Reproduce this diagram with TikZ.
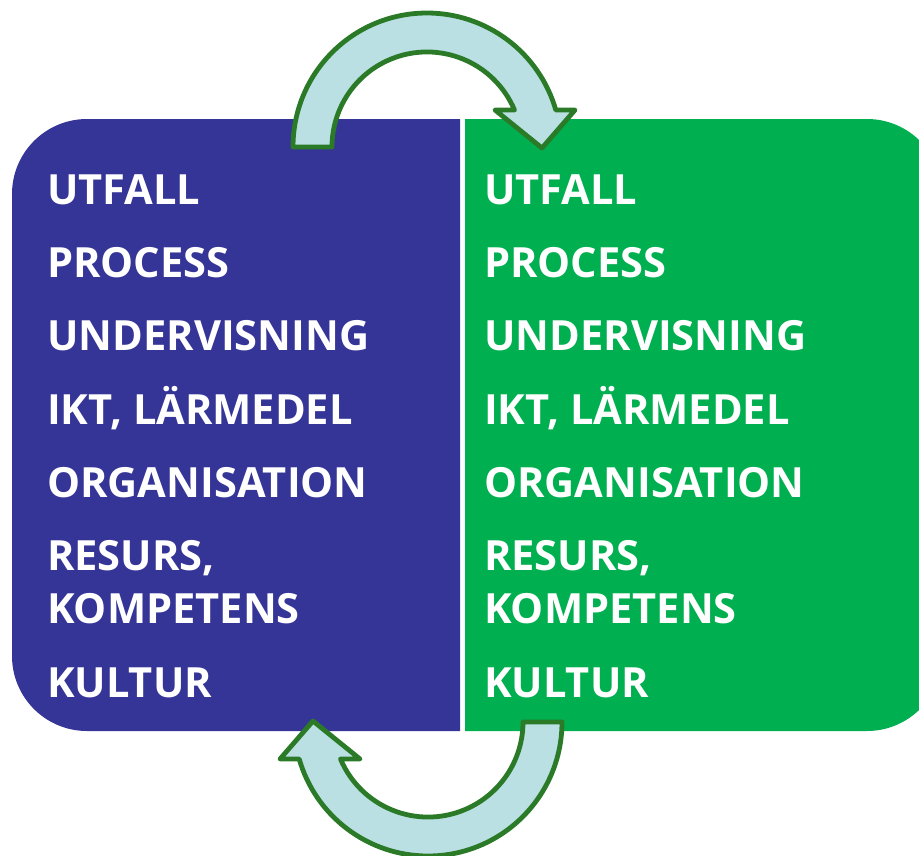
\documentclass[tikz,border=0pt]{standalone}
\usepackage{fontspec}
\setmainfont{Open Sans}
\definecolor{boxblue}{RGB}{53,52,151}
\definecolor{boxgreen}{RGB}{0,175,80}
\definecolor{arrowfill}{RGB}{186,224,228}
\definecolor{arrowline}{RGB}{43,122,39}
\tikzset{
  lbl/.style={anchor=base west, inner sep=0pt, text=white, font=\bfseries\fontsize{41.6}{42}\selectfont},
  cyclearrow/.style={fill=arrowfill, draw=arrowline, line width=4.8pt, line join=round}
}
\begin{document}
\begin{tikzpicture}[x=1pt,y=-1pt]
\useasboundingbox (0,0) rectangle (919,855);
% boxes
\fill[boxblue] (460,119) [rounded corners=75pt] -- (12,119) -- (12,731) [sharp corners] -- (460,731) -- cycle;
\fill[boxgreen] (465,119) [rounded corners=75pt] -- (942,119) -- (942,731) [sharp corners] -- (465,731) -- cycle;
% texts left
\node[lbl] (l1) at (47,204) {UTFALL};
\node[lbl] (l2) at (47,277) {PROCESS};
\node[lbl] (l3) at (47,350) {UNDERVISNING};
\node[lbl] (l4) at (47,424) {IKT, LÄRMEDEL};
\node[lbl] (l5) at (47,497) {ORGANISATION};
\node[lbl] (l6) at (47,570) {RESURS,};
\node[lbl] (l7) at (47,623) {KOMPETENS};
\node[lbl] (l8) at (47,697) {KULTUR};
% texts right
\node[lbl] (r1) at (484,204) {UTFALL};
\node[lbl] (r2) at (484,277) {PROCESS};
\node[lbl] (r3) at (484,350) {UNDERVISNING};
\node[lbl] (r4) at (484,424) {IKT, LÄRMEDEL};
\node[lbl] (r5) at (484,497) {ORGANISATION};
\node[lbl] (r6) at (484,570) {RESURS,};
\node[lbl] (r7) at (484,623) {KOMPETENS};
\node[lbl] (r8) at (484,697) {KULTUR};
% top arrow
\path[cyclearrow] (293,147) arc[start angle=180, end angle=344, radius=134]
  -- (575,110) -- (542,148) -- (495,110) -- (514.5,110)
  arc[start angle=337.1, end angle=180, radius=95] -- cycle;
% bottom arrow
\begin{scope}[rotate around={180:(427.5,434.5)}]
\path[cyclearrow] (293,147) arc[start angle=180, end angle=344, radius=134]
  -- (575,110) -- (542,148) -- (495,110) -- (514.5,110)
  arc[start angle=337.1, end angle=180, radius=95] -- cycle;
\end{scope}
\end{tikzpicture}
\end{document}
